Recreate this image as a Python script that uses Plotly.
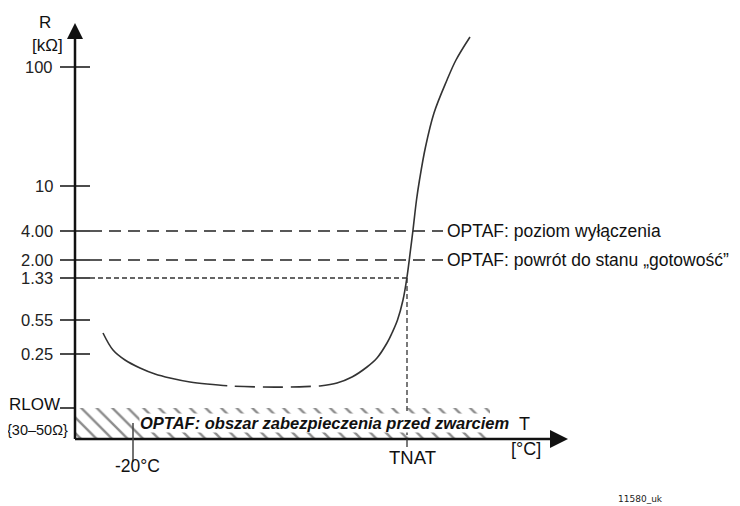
import plotly.graph_objects as go

# ---------------- data (schematic units; origin = axes crossing) ----------------
r_tick_labels = ["100", "10", "4.00", "2.00", "1.33", "0.55", "0.25"]
r_tick_pos = [372, 253, 208, 179, 161, 119, 85]
rlow_pos = 31

# PTC resistance curve, three segments (cold solid, middle dashed, hot solid)
curve_cold_x = [28, 38, 50, 65, 80, 95, 115, 132]
curve_cold_y = [106, 89, 79, 71, 65, 61, 57, 55]
curve_mid_x = [132, 155, 185, 215, 245]
curve_mid_y = [55, 53, 52, 52, 53]
curve_hot_x = [245, 262, 277, 292, 302, 312, 317, 322.5, 328, 332, 335.5, 338, 341.5, 344.5, 350.5, 359, 372, 381, 395]
curve_hot_y = [53, 56, 62, 72, 81, 96, 106, 119, 139, 162, 189, 209, 239, 259, 292, 326, 359, 379, 402]

threshold_levels = [208, 179]
threshold_labels = ["OPTAF: poziom wyłączenia", "OPTAF: powrót do stanu „gotowość”"]
reset_level = 161           # 1.33 level
tnat_pos = 332
minus20_pos = 58
band_end = 415
x_axis_len = 493
y_axis_len = 416

FONT = "Liberation Sans, Arial, sans-serif"
INK = "#111111"

fig = go.Figure()

# hatched short-circuit protection band
fig.add_trace(go.Scatter(
    x=[0, band_end, band_end, 0, 0], y=[0, 0, rlow_pos, rlow_pos, 0],
    mode="lines", fill="toself", line=dict(width=0), fillcolor="white",
    fillpattern=dict(shape="\\", size=11, solidity=0.22, fgcolor="#1a1a1a", bgcolor="white"),
    hoverinfo="skip", showlegend=False))

# threshold dashed lines
for lvl in threshold_levels:
    fig.add_trace(go.Scatter(x=[15, 368], y=[lvl, lvl], mode="lines",
                             line=dict(color="#222222", width=1.5, dash="12px,7px"),
                             hoverinfo="skip", showlegend=False))
# 1.33 dotted line and TNAT vertical
fig.add_trace(go.Scatter(x=[15, tnat_pos], y=[reset_level, reset_level], mode="lines",
                         line=dict(color="#333333", width=1.3, dash="5px,3px"),
                         hoverinfo="skip", showlegend=False))
fig.add_trace(go.Scatter(x=[tnat_pos, tnat_pos], y=[reset_level, 0], mode="lines",
                         line=dict(color="#333333", width=1.3, dash="5px,3px"),
                         hoverinfo="skip", showlegend=False))

# curve
fig.add_trace(go.Scatter(x=curve_cold_x, y=curve_cold_y, mode="lines", line_shape="spline",
                         line=dict(color="#333333", width=1.6), hoverinfo="skip", showlegend=False))
fig.add_trace(go.Scatter(x=curve_mid_x, y=curve_mid_y, mode="lines", line_shape="spline",
                         line=dict(color="#333333", width=1.6, dash="20px,8px"),
                         hoverinfo="skip", showlegend=False))
fig.add_trace(go.Scatter(x=curve_hot_x, y=curve_hot_y, mode="lines", line_shape="spline",
                         line=dict(color="#333333", width=1.6, smoothing=1.0),
                         hoverinfo="skip", showlegend=False))

shapes = []
# axes
shapes.append(dict(type="line", x0=0, y0=0, x1=0, y1=y_axis_len - 12, line=dict(color=INK, width=2.5)))
shapes.append(dict(type="line", x0=0, y0=0, x1=x_axis_len - 14, y1=0, line=dict(color=INK, width=2.5)))
shapes.append(dict(type="path",
                   path=f"M 0 {y_axis_len} L -8 {y_axis_len-16} L 8 {y_axis_len-16} Z",
                   fillcolor=INK, line=dict(width=0)))
shapes.append(dict(type="path",
                   path=f"M {x_axis_len} 0 L {x_axis_len-18} 9 L {x_axis_len-18} -9 Z",
                   fillcolor=INK, line=dict(width=0)))
# y ticks
for p in r_tick_pos:
    shapes.append(dict(type="line", x0=-15, y0=p, x1=15, y1=p, line=dict(color=INK, width=1.5)))
shapes.append(dict(type="line", x0=-15, y0=rlow_pos, x1=0, y1=rlow_pos, line=dict(color=INK, width=1.5)))
# x ticks
shapes.append(dict(type="line", x0=minus20_pos, y0=16, x1=minus20_pos, y1=-23,
                   line=dict(color="#444444", width=1.5)))
shapes.append(dict(type="line", x0=tnat_pos, y0=0, x1=tnat_pos, y1=-8,
                   line=dict(color="#333333", width=1.3)))

annotations = []
for p, lab in zip(r_tick_pos, r_tick_labels):
    annotations.append(dict(x=-20, y=p, text=lab, xanchor="right", yanchor="middle",
                            showarrow=False, font=dict(family=FONT, size=16.5, color="#222222")))
for lvl, lab in zip(threshold_levels, threshold_labels):
    annotations.append(dict(x=370, y=lvl, text=lab, xanchor="left", yanchor="middle",
                            showarrow=False, font=dict(family=FONT, size=17.5, color=INK)))


def txt(x, y, t, size=17, xanchor="center", **kw):
    annotations.append(dict(x=x, y=y, text=t, xanchor=xanchor, yanchor="middle", showarrow=False,
                            font=dict(family=FONT, size=size, color=kw.pop("color", INK)), **kw))


txt(-30, 417, "R", size=17)
txt(-28, 394, "[kΩ]", size=17)
txt(-13, 35, "RLOW", size=17, xanchor="right")
txt(-5, 9, "{30–50Ω}", size=14.5, xanchor="right")
txt(62, -27, "-20°C", size=17.5)
txt(337, -18, "TNAT", size=18.5)
txt(449, 15, "T", size=18)
txt(451, -10, "[°C]", size=18)
txt(64, 16, "<b><i>OPTAF: obszar zabezpieczenia przed zwarciem</i></b>", size=16.5, xanchor="left",
    bgcolor="white", borderpad=0)
annotations.append(dict(x=541, y=-60, text="11580_uk", xanchor="left", yanchor="middle",
                        showarrow=False, font=dict(family="DejaVu Sans, Verdana, sans-serif",
                                                   size=9, color="#222222")))

# page body has an 8px margin: figure is 732x498 so that it fills the 740x506 window
fig.update_layout(
    width=732, height=498,
    margin=dict(l=0, r=0, t=0, b=0),
    paper_bgcolor="white", plot_bgcolor="white",
    xaxis=dict(range=[-67, 665], visible=False, fixedrange=True),
    yaxis=dict(range=[-67, 431], visible=False, fixedrange=True),
    shapes=shapes, annotations=annotations, showlegend=False,
)

fig.write_html("out.html")
